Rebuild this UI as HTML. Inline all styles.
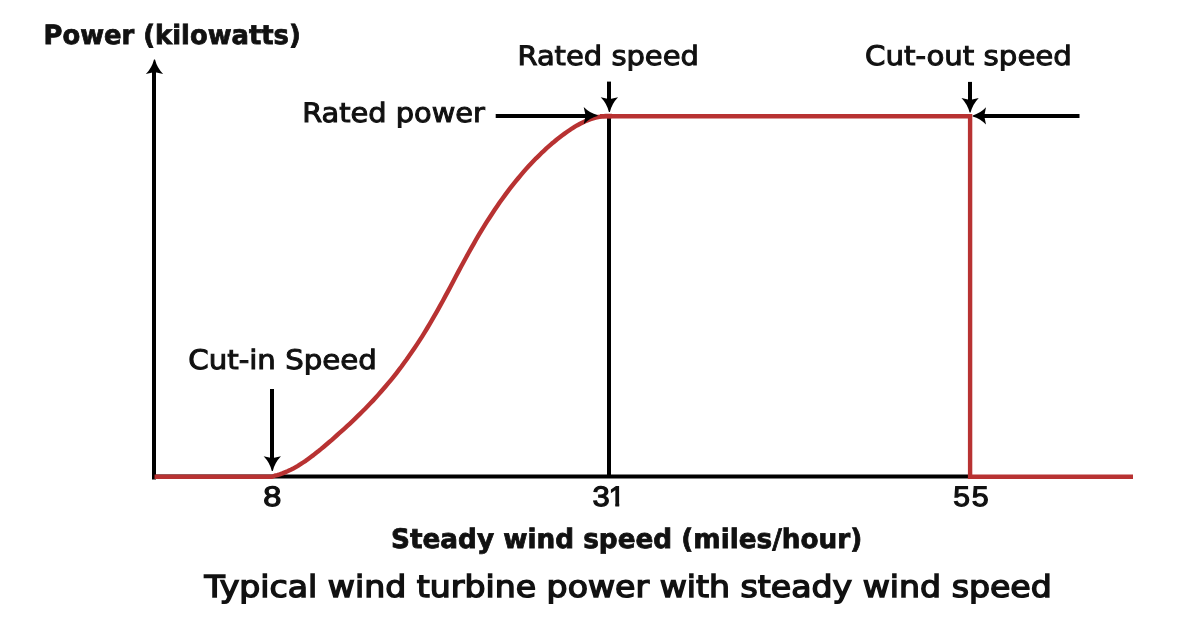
<!DOCTYPE html>
<html><head><meta charset="utf-8"><title>Typical wind turbine power with steady wind speed</title>
<style>html,body{margin:0;padding:0;background:#fff;width:1181px;height:620px;overflow:hidden}svg{display:block;will-change:transform}</style>
</head><body>
<svg width="1181" height="620" viewBox="0 0 1181 620">
<defs><clipPath id="c1"><rect x="585" y="478" width="45" height="24.8"/><rect x="585" y="478" width="24.8" height="34"/><rect x="615.3" y="478" width="3.9" height="34"/></clipPath></defs>
<rect width="1181" height="620" fill="#fff"/>
<g stroke="#000" stroke-width="4" fill="none" stroke-linecap="butt">
<path d="M154 72 V479.6"/>
<path d="M152 476.6 H972"/>
<path d="M609 116 V478"/>
<path d="M609 81.6 V100"/>
<path d="M970 81.9 V100"/>
<path d="M272 389 V460"/>
<path d="M495.7 115.9 H587"/>
<path d="M1079.5 115.9 H984"/>
</g>
<path d="M154.5 476.7 H272 L274.6 475.7 L277.2 475.1 L279.8 474.3 L282.4 473.4 L284.9 472.4 L287.5 471.3 L290.1 470.1 L292.7 468.8 L295.3 467.3 L297.9 465.8 L300.5 464.2 L303.1 462.5 L305.7 460.8 L308.2 458.9 L310.8 457.0 L313.4 455.1 L316.0 453.0 L318.6 451.0 L321.2 448.9 L323.8 446.7 L326.4 444.5 L329.0 442.3 L331.6 440.1 L334.1 437.8 L336.7 435.5 L339.3 433.2 L341.9 430.9 L344.5 428.6 L347.1 426.2 L349.7 423.8 L352.3 421.4 L354.9 418.9 L357.4 416.4 L360.0 413.9 L362.6 411.3 L365.2 408.7 L367.8 406.0 L370.4 403.3 L373.0 400.6 L375.6 397.8 L378.2 394.9 L380.7 392.0 L383.3 389.0 L385.9 386.0 L388.5 382.9 L391.1 379.8 L393.7 376.6 L396.3 373.3 L398.9 369.9 L401.5 366.5 L404.0 363.0 L406.6 359.5 L409.2 355.8 L411.8 352.1 L414.4 348.3 L417.0 344.4 L419.6 340.4 L422.2 336.4 L424.8 332.2 L427.3 328.0 L429.9 323.7 L432.5 319.2 L435.1 314.7 L437.7 310.1 L440.3 305.4 L442.9 300.7 L445.5 295.9 L448.1 291.1 L450.7 286.2 L453.2 281.4 L455.8 276.5 L458.4 271.6 L461.0 266.8 L463.6 262.0 L466.2 257.2 L468.8 252.5 L471.4 247.9 L474.0 243.3 L476.5 238.8 L479.1 234.4 L481.7 230.1 L484.3 225.9 L486.9 221.7 L489.5 217.7 L492.1 213.7 L494.7 209.8 L497.3 206.0 L499.8 202.3 L502.4 198.7 L505.0 195.1 L507.6 191.6 L510.2 188.2 L512.8 184.9 L515.4 181.7 L518.0 178.5 L520.6 175.4 L523.1 172.4 L525.7 169.4 L528.3 166.5 L530.9 163.7 L533.5 161.0 L536.1 158.3 L538.7 155.8 L541.3 153.2 L543.9 150.8 L546.4 148.4 L549.0 146.1 L551.6 143.8 L554.2 141.7 L556.8 139.5 L559.4 137.5 L562.0 135.5 L564.6 133.6 L567.2 131.8 L569.8 130.0 L572.3 128.3 L574.9 126.7 L577.5 125.2 L580.1 123.8 L582.7 122.5 L585.3 121.3 L587.9 120.2 L590.5 119.2 L593.1 118.4 L595.6 117.6 L598.2 117.0 L600.8 116.6 L603.4 116.2 L606.0 116.0 H612" fill="none" stroke="#b83232" stroke-width="4.4" stroke-linejoin="round"/>
<path d="M600 116.2 H970.1 V476.7 H1133" fill="none" stroke="#b83232" stroke-width="4.4" stroke-linejoin="miter"/>
<path d="M0.3 -0.5 Q-8.05 -2.6 -14.3 -8.65 L-12.8 -2 L-12.8 2 L-14.3 8.65 Q-8.05 2.6 0.3 0.5Z" transform="translate(154.5 59.7) rotate(-90) scale(1 1)" fill="#000"/>
<path d="M0.3 -0.5 Q-8.05 -2.6 -14.3 -8.65 L-12.8 -2 L-12.8 2 L-14.3 8.65 Q-8.05 2.6 0.3 0.5Z" transform="translate(609.4 111.6) rotate(90) scale(1 1)" fill="#000"/>
<path d="M0.3 -0.5 Q-8.05 -2.6 -14.3 -8.65 L-12.8 -2 L-12.8 2 L-14.3 8.65 Q-8.05 2.6 0.3 0.5Z" transform="translate(970.1 112.2) rotate(90) scale(1 1)" fill="#000"/>
<path d="M0.3 -0.5 Q-8.05 -2.6 -14.3 -8.65 L-12.8 -2 L-12.8 2 L-14.3 8.65 Q-8.05 2.6 0.3 0.5Z" transform="translate(272.3 470.6) rotate(90) scale(1 1)" fill="#000"/>
<path d="M0.3 -0.5 Q-8.05 -2.6 -14.3 -8.65 L-12.8 -2 L-12.8 2 L-14.3 8.65 Q-8.05 2.6 0.3 0.5Z" transform="translate(597.3 115.6) rotate(0) scale(0.95 1)" fill="#000"/>
<path d="M0.3 -0.5 Q-8.05 -2.6 -14.3 -8.65 L-12.8 -2 L-12.8 2 L-14.3 8.65 Q-8.05 2.6 0.3 0.5Z" transform="translate(973.0 115.9) rotate(180) scale(0.91 1)" fill="#000"/>
<g fill="#111" text-rendering="geometricPrecision">
<text x="43.50" y="44.00" font-family="'DejaVu Sans', sans-serif" font-size="26.60" font-weight="bold" textLength="257.30" lengthAdjust="spacingAndGlyphs" stroke="#111" stroke-width="0.8">Power (kilowatts)</text>
<text x="517.40" y="65.00" font-family="'DejaVu Sans', sans-serif" font-size="26.80" font-weight="normal" textLength="181.50" lengthAdjust="spacingAndGlyphs" stroke="#111" stroke-width="1.0">Rated speed</text>
<text x="865.00" y="65.00" font-family="'DejaVu Sans', sans-serif" font-size="26.80" font-weight="normal" textLength="206.90" lengthAdjust="spacingAndGlyphs" stroke="#111" stroke-width="1.0">Cut-out speed</text>
<text x="302.20" y="121.90" font-family="'DejaVu Sans', sans-serif" font-size="26.80" font-weight="normal" textLength="182.70" lengthAdjust="spacingAndGlyphs" stroke="#111" stroke-width="1.0">Rated power</text>
<text x="188.30" y="368.90" font-family="'DejaVu Sans', sans-serif" font-size="26.80" font-weight="normal" textLength="188.50" lengthAdjust="spacingAndGlyphs" stroke="#111" stroke-width="1.0">Cut-in Speed</text>
<text x="263.20" y="505.90" font-family="'Liberation Sans', sans-serif" font-size="28.20" font-weight="normal" textLength="18.10" lengthAdjust="spacingAndGlyphs" stroke="#111" stroke-width="1.2">8</text>
<text x="391.00" y="548.00" font-family="'DejaVu Sans', sans-serif" font-size="26.80" font-weight="bold" textLength="471.30" lengthAdjust="spacingAndGlyphs" stroke="#111" stroke-width="0.8">Steady wind speed (miles/hour)</text>
<text x="204.60" y="596.90" font-family="'DejaVu Sans', sans-serif" font-size="30.20" font-weight="normal" textLength="847.20" lengthAdjust="spacingAndGlyphs" stroke="#111" stroke-width="1.4">Typical wind turbine power with steady wind speed</text>
<text clip-path="url(#c1)" y="505.90" font-family="'Liberation Sans', sans-serif" font-size="28.20" font-weight="normal" stroke="#111" stroke-width="1.2"><tspan x="592.50" textLength="17.20" lengthAdjust="spacingAndGlyphs">3</tspan><tspan x="608.74" textLength="15.97" lengthAdjust="spacingAndGlyphs">1</tspan></text>
<text y="505.90" font-family="'Liberation Sans', sans-serif" font-size="28.20" font-weight="normal" stroke="#111" stroke-width="1.2"><tspan x="953.30" textLength="16.70" lengthAdjust="spacingAndGlyphs">5</tspan><tspan x="971.70" textLength="16.90" lengthAdjust="spacingAndGlyphs">5</tspan></text>
</g>
</svg>
</body></html>
